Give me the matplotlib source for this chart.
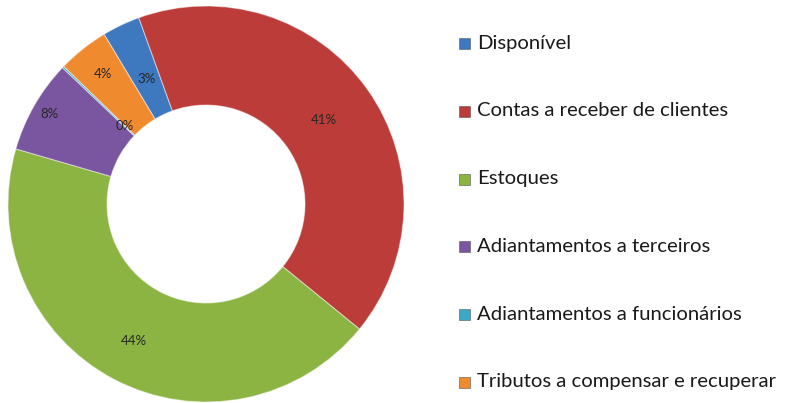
import numpy as np
import matplotlib.pyplot as plt
from matplotlib.patches import Rectangle

categories = ["Disponível", "Contas a receber de clientes", "Estoques",
              "Adiantamentos a terceiros", "Adiantamentos a funcionários",
              "Tributos a compensar e recuperar"]
values = [3.1, 41.4, 43.6, 7.6, 0.15, 4.15]
labels = ["3%", "41%", "44%", "8%", "0%", "4%"]
colors = ["#3E78BF", "#BC3C39", "#8CB443", "#7A56A0", "#3AA8C6", "#F08A2E"]
label_r = [0.70, 0.73, 0.78, 0.91, 0.57, 0.84]

W, H = 785, 403
fig = plt.figure(figsize=(W / 100, H / 100), dpi=100)
cx, cy, R = 206, 204, 198
ax = fig.add_axes([(cx - R) / W, (H - cy - R) / H, 2 * R / W, 2 * R / H])

wedges, _ = ax.pie(values, colors=colors, startangle=121, counterclock=False,
                   radius=1.0, wedgeprops=dict(width=0.5, edgecolor=(1, 1, 1, 0.45), linewidth=0.8))
ax.set_xlim(-1, 1)
ax.set_ylim(-1, 1)
ax.set_aspect("equal")
ax.axis("off")

for w, lab, r in zip(wedges, labels, label_r):
    mid = np.deg2rad((w.theta1 + w.theta2) / 2)
    ax.text(r * np.cos(mid), r * np.sin(mid), lab, ha="center", va="center",
            fontsize=9.5, color="#262626", family="Lato")

# legend
y0 = 43
dy = 67.8
for i, (cat, col) in enumerate(zip(categories, colors)):
    y = y0 + i * dy
    fig.patches.append(Rectangle(((459) / W, (H - y - 6) / H), 11 / W, 11 / H,
                                 transform=fig.transFigure, facecolor=col,
                                 edgecolor="#555555", linewidth=0.4))
    fig.text(477 / W, (H - y) / H, cat, ha="left", va="center",
             fontsize=14.6, color="#1a1a1a", family="Lato")

fig.savefig("out.png", dpi=100)
